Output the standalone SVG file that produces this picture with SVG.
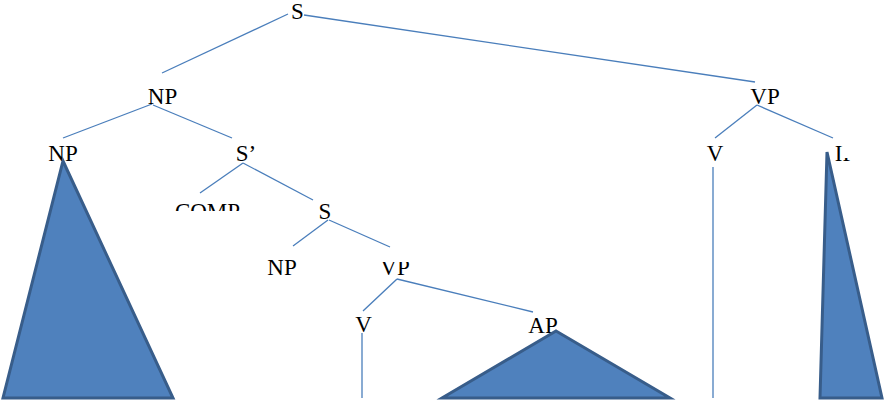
<svg xmlns="http://www.w3.org/2000/svg" width="885" height="401" viewBox="0 0 885 401">
<style>
.lbl{font-family:"Liberation Serif","Times New Roman",serif;font-size:23px;fill:#000;text-anchor:middle}
.edge{stroke:#4A7EBB;stroke-width:1.3;fill:none}
.tri{fill:#4F81BD;stroke:#385D8A;stroke-width:3;stroke-linejoin:miter}
</style>
<defs>
<clipPath id="clipComp"><rect x="150" y="190" width="120" height="21"/></clipPath>
<clipPath id="clipVp"><rect x="360" y="262" width="70" height="30"/></clipPath>
<clipPath id="clipIp"><path d="M820 130 H843 V158 H885 V175 H820 Z"/></clipPath>
</defs>
<rect width="885" height="401" fill="#fff"/>
<g id="connectors">
<line class="edge" x1="288" y1="14" x2="162" y2="73"/>
<line class="edge" x1="304" y1="15" x2="755" y2="82"/>
<line class="edge" x1="152" y1="104" x2="63" y2="138"/>
<line class="edge" x1="153" y1="105" x2="232" y2="138"/>
<line class="edge" x1="757" y1="105" x2="715" y2="138"/>
<line class="edge" x1="757" y1="105" x2="833" y2="138"/>
<line class="edge" x1="713" y1="167" x2="713" y2="398"/>
<line class="edge" x1="243" y1="163" x2="200" y2="193"/>
<line class="edge" x1="243" y1="163" x2="313" y2="200"/>
<line class="edge" x1="328" y1="220" x2="293" y2="246"/>
<line class="edge" x1="329" y1="220" x2="390" y2="247"/>
<line class="edge" x1="397" y1="279" x2="363" y2="311"/>
<line class="edge" x1="397" y1="279" x2="533" y2="312"/>
<line class="edge" x1="362" y1="333" x2="362" y2="398"/>
</g>
<g id="n-S"><text class="lbl" x="297.5" y="19">S</text></g>
<g id="n-NP1"><text class="lbl" x="162.5" y="104">NP</text></g>
<g id="n-VP1"><text class="lbl" x="765" y="104">VP</text></g>
<g id="n-NP2"><text class="lbl" x="63" y="161">NP</text>
<polygon class="tri" points="63,161 173,398 3,398"/></g>
<g id="n-Sbar"><text class="lbl" x="246" y="161">S’</text></g>
<g id="n-V1"><text class="lbl" x="715" y="161">V</text></g>
<g id="n-IP"><text class="lbl" x="845" y="161" clip-path="url(#clipIp)">IP</text>
<polygon class="tri" points="827,152 882,398 820,398"/></g>
<g id="n-COMP"><text class="lbl" x="207.5" y="219" clip-path="url(#clipComp)">COMP</text></g>
<g id="n-S2"><text class="lbl" x="325" y="219">S</text></g>
<g id="n-NP3"><text class="lbl" x="282" y="275">NP</text></g>
<g id="n-VP2"><text class="lbl" x="395" y="275" clip-path="url(#clipVp)">VP</text></g>
<g id="n-V2"><text class="lbl" x="363.5" y="332">V</text></g>
<g id="n-AP"><text class="lbl" x="543" y="333">AP</text>
<polygon class="tri" points="556,331 670,398 442,398"/></g>
</svg>
